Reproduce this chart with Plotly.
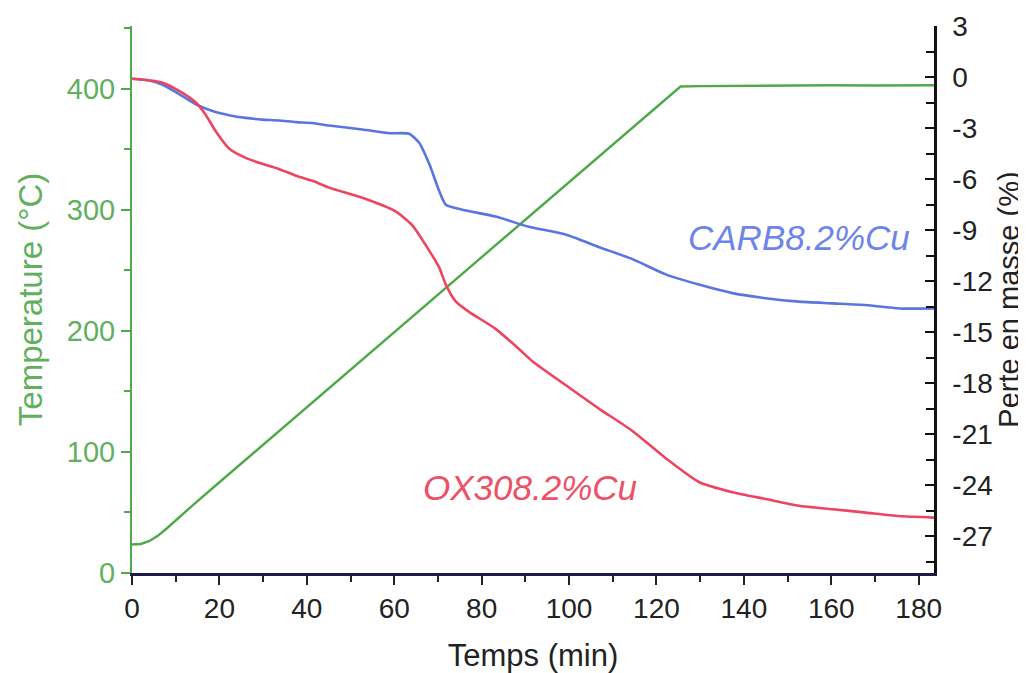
import plotly.graph_objects as go

# ---- data ----
temps_min = [0, 2, 4, 6, 8, 10, 12, 14, 20, 30, 40, 50, 60, 70, 80, 90, 100, 110, 120, 125.5,
             130, 140, 150, 160, 170, 180, 184]
temperature_c = [23.5, 24, 26.5, 31, 37, 43.5, 50, 56.3, 75, 106, 137, 168, 199, 230, 261,
                 292, 323, 354, 385, 402, 402.3, 402.6, 403.2, 403, 402.8, 403, 403]

carb_t = [0, 4, 7, 10.8, 14.6, 18.4, 22.2, 26, 29.8, 33.6, 37.5, 41.3, 45.1, 52.7, 58.8,
          63.4, 65.7, 68, 70.3, 71.8, 75.6, 83.2, 90.8, 99.2, 106.9, 114.5, 122.1, 129.7,
          137.4, 145, 152.6, 160.3, 167.9, 175.5, 184]
carb_loss = [-0.1, -0.2, -0.45, -1.0, -1.6, -2.0, -2.24, -2.4, -2.5, -2.55, -2.65, -2.7,
             -2.85, -3.08, -3.3, -3.33, -3.86, -5.1, -6.7, -7.5, -7.8, -8.2, -8.8, -9.25,
             -10.0, -10.7, -11.6, -12.2, -12.7, -13.0, -13.2, -13.3, -13.4, -13.6, -13.6]

ox_t = [0, 4, 7, 10.8, 14.6, 16.8, 19.2, 22.2, 26, 29.8, 33.6, 37.5, 41.3, 45.1, 52.7, 60.3,
        64.1, 68, 70.3, 71.8, 74.1, 77.1, 83.2, 88.6, 91.6, 99.2, 106.9, 114.5, 122.1,
        129.7, 137.4, 145, 152.6, 160.3, 167.9, 175.5, 184]
ox_loss = [-0.1, -0.2, -0.33, -0.82, -1.5, -2.2, -3.2, -4.2, -4.75, -5.1, -5.4, -5.8, -6.1,
           -6.5, -7.1, -7.9, -8.7, -10.2, -11.2, -12.2, -13.2, -13.8, -14.8, -16.0, -16.7,
           -18.1, -19.5, -20.8, -22.4, -23.8, -24.4, -24.8, -25.2, -25.4, -25.6, -25.8, -25.9]

x_ticks = [0, 20, 40, 60, 80, 100, 120, 140, 160, 180]
left_ticks = [0, 100, 200, 300, 400]
right_ticks = [3, 0, -3, -6, -9, -12, -15, -18, -21, -24, -27]
right_tick_text = ["3", "0", "-3", "-6", "-9", "-12", "-15", "-18", "-21", "-24", "-27"]

labels = {"carb": "CARB8.2%Cu", "ox": "OX308.2%Cu"}

GREEN = "#4fa84a"
GREEN_TXT = "#62b05e"
BLUE = "#5a74e0"
RED = "#ee4462"
FONT = "Liberation Sans, Arial, sans-serif"

fig = go.Figure()
fig.add_trace(go.Scatter(x=temps_min, y=temperature_c, mode="lines",
                         line=dict(color=GREEN, width=2.4), yaxis="y", showlegend=False))
fig.add_trace(go.Scatter(x=carb_t, y=carb_loss, mode="lines",
                         line=dict(color=BLUE, width=2.6, shape="spline", smoothing=0.6),
                         yaxis="y2", showlegend=False))
fig.add_trace(go.Scatter(x=ox_t, y=ox_loss, mode="lines",
                         line=dict(color=RED, width=2.6, shape="spline", smoothing=0.6),
                         yaxis="y2", showlegend=False))

fig.add_annotation(x=152.5, y=-9.45, xref="x", yref="y2", text=labels["carb"],
                   showarrow=False,
                   font=dict(family=FONT, size=35, color="#6d84e8", style="italic"),
                   xanchor="center", yanchor="middle")
fig.add_annotation(x=91.0, y=-24.1, xref="x", yref="y2", text=labels["ox"],
                   showarrow=False,
                   font=dict(family=FONT, size=35, color="#ee5068", style="italic"),
                   xanchor="center", yanchor="middle")

# the page body adds an 8px offset; the figure is sized to fill the rest of the window
fig.update_layout(
    width=1018, height=665, autosize=False,
    margin=dict(l=124, r=92, t=18, b=100),
    paper_bgcolor="white", plot_bgcolor="white",
    font=dict(family=FONT, color="#222222"),
    xaxis=dict(
        range=[0, 183.5], tickvals=x_ticks, ticks="outside", ticklen=9, tickwidth=2,
        tickcolor="#222222", showline=True, linecolor="#1c1c48", linewidth=2.5,
        showgrid=False, zeroline=False, automargin=False,
        tickfont=dict(family=FONT, size=28, color="#222222"),
        minor=dict(dtick=10, ticks="outside", ticklen=6, tickwidth=2, tickcolor="#222222"),
        title=dict(text="Temps (min)", font=dict(family=FONT, size=31, color="#222222"),
                   standoff=22),
    ),
    yaxis=dict(
        range=[0, 452], tickvals=left_ticks, ticks="outside", ticklen=9, tickwidth=2,
        tickcolor=GREEN, showline=True, linecolor=GREEN, linewidth=2,
        showgrid=False, zeroline=False, automargin=False,
        tickfont=dict(family=FONT, size=29, color=GREEN_TXT),
        minor=dict(dtick=50, ticks="outside", ticklen=6, tickwidth=2, tickcolor=GREEN),
        title=dict(text="Temperature (°C)", font=dict(family=FONT, size=33, color=GREEN_TXT),
                   standoff=14),
    ),
    yaxis2=dict(
        range=[-29.15, 3.0], overlaying="y", side="right", anchor="x",
        tickvals=right_ticks, ticktext=right_tick_text,
        ticks="inside", ticklen=9, tickwidth=2, tickcolor="#111111",
        showline=True, linecolor="#111111", linewidth=2.5,
        showgrid=False, zeroline=False, ticklabelstandoff=10, automargin=False,
        tickfont=dict(family=FONT, size=28, color="#222222"),
        minor=dict(dtick=1.5, tick0=0, ticks="inside", ticklen=8, tickwidth=2,
                   tickcolor="#111111"),
        title=dict(text="Perte en masse (%)", font=dict(family=FONT, size=29, color="#222222"),
                   standoff=4),
    ),
)

fig.write_html("out.html")
